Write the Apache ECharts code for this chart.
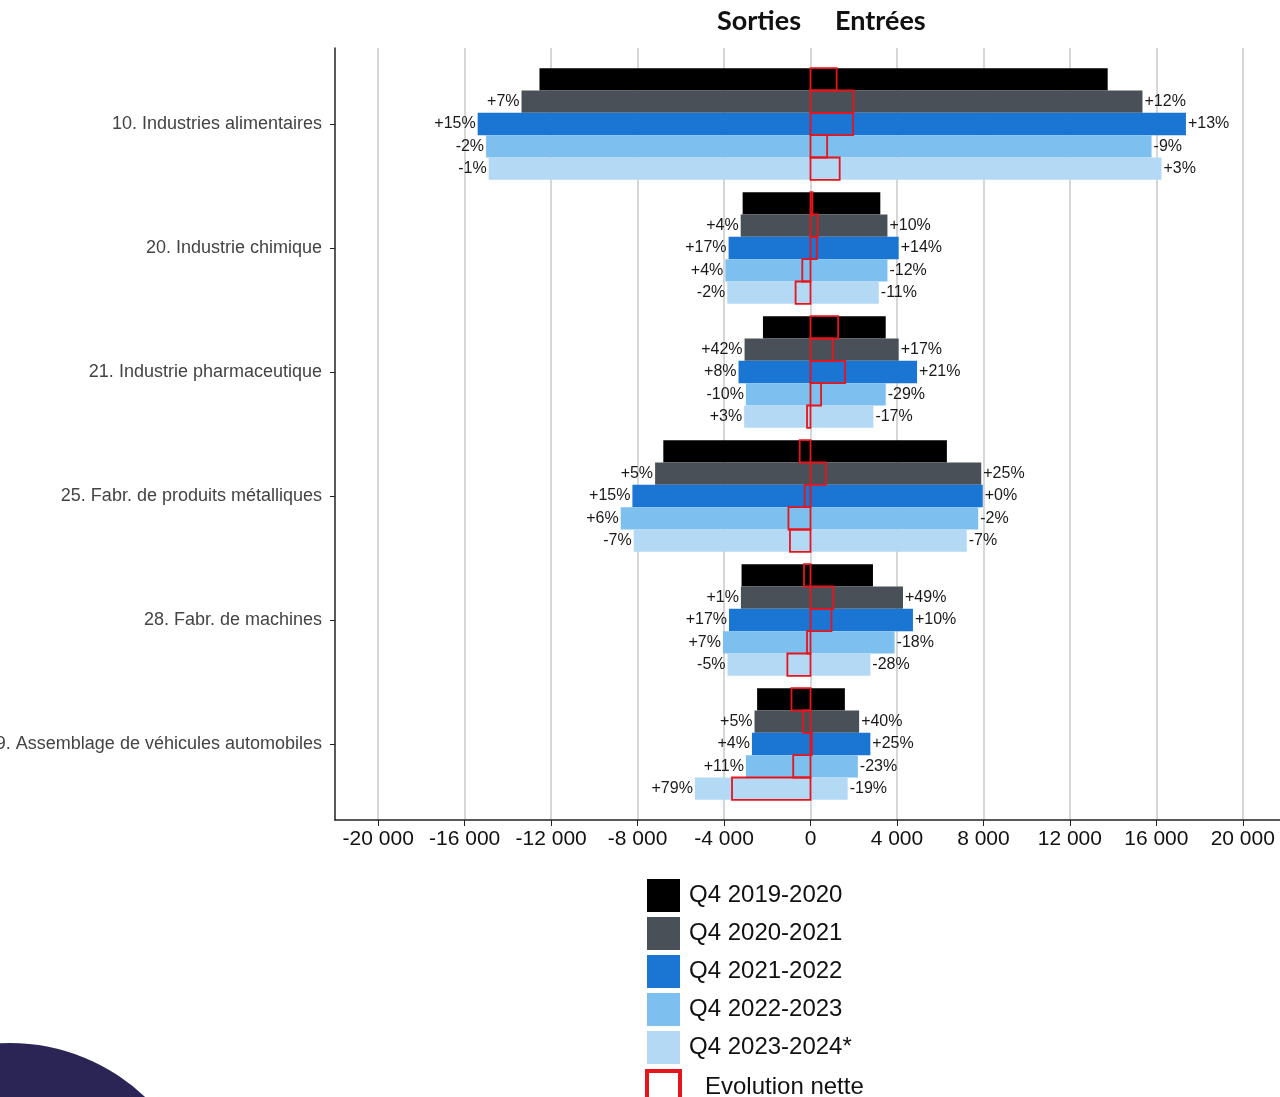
<!DOCTYPE html>
<html>
<head>
<meta charset="utf-8">
<script src="https://cdn.jsdelivr.net/npm/echarts@6/dist/echarts.min.js"></script>
<style>
html,body{margin:0;padding:0;background:#fff;}
#chart{width:1280px;height:1097px;}
</style>
</head>
<body>
<div id="chart"></div>
<script>
// ---------------- data ----------------
const categories = [
  '10. Industries alimentaires',
  '20. Industrie chimique',
  '21. Industrie pharmaceutique',
  '25. Fabr. de produits métalliques',
  '28. Fabr. de machines',
  '29. Assemblage de véhicules automobiles'
];
const periods = ['Q4 2019-2020', 'Q4 2020-2021', 'Q4 2021-2022', 'Q4 2022-2023', 'Q4 2023-2024*'];
const netName = 'Evolution nette';

// Sorties (negative), one array per period, one value per category
const sorties0 = [-12540, -3140, -2200, -6810, -3190, -2470];
const sorties1 = [-13370, -3230, -3050, -7190, -3220, -2590];
const sorties2 = [-15400, -3790, -3330, -8240, -3770, -2710];
const sorties3 = [-15010, -3940, -2990, -8780, -4050, -2990];
const sorties4 = [-14890, -3850, -3070, -8180, -3840, -5350];

// Entrées (positive)
const entrees0 = [13750, 3230, 3480, 6310, 2890, 1590];
const entrees1 = [15360, 3560, 4080, 7900, 4280, 2250];
const entrees2 = [17370, 4080, 4930, 7970, 4740, 2770];
const entrees3 = [15780, 3560, 3480, 7760, 3890, 2190];
const entrees4 = [16240, 3160, 2910, 7230, 2770, 1720];

// Year-on-year % labels (null = no label)
const sortiesPct0 = [null, null, null, null, null, null];
const sortiesPct1 = [7, 4, 42, 5, 1, 5];
const sortiesPct2 = [15, 17, 8, 15, 17, 4];
const sortiesPct3 = [-2, 4, -10, 6, 7, 11];
const sortiesPct4 = [-1, -2, 3, -7, -5, 79];

const entreesPct0 = [null, null, null, null, null, null];
const entreesPct1 = [12, 10, 17, 25, 49, 40];
const entreesPct2 = [13, 14, 21, 0, 10, 25];
const entreesPct3 = [-9, -12, -29, -2, -18, -23];
const entreesPct4 = [3, -11, -17, -7, -28, -19];

const xTickValues = [-20000, -16000, -12000, -8000, -4000, 0, 4000, 8000, 12000, 16000, 20000];

// ---------------- build ----------------
const sorties = [sorties0, sorties1, sorties2, sorties3, sorties4];
const entrees = [entrees0, entrees1, entrees2, entrees3, entrees4];
const sortiesPct = [sortiesPct0, sortiesPct1, sortiesPct2, sortiesPct3, sortiesPct4];
const entreesPct = [entreesPct0, entreesPct1, entreesPct2, entreesPct3, entreesPct4];

const colors = ['#000000', '#4a5058', '#1a76d2', '#7dbfee', '#b4d9f5'];
const netColor = '#e8141c';

const SANS = '"Liberation Sans", Arial, sans-serif';
const TITLE_FONT = 'Lato, "Liberation Sans", sans-serif';

function fmtPct(v) {
  if (v === null || v === undefined) return '';
  return (v >= 0 ? '+' : '') + v + '%';
}
function fmtThousands(v) {
  const s = String(Math.abs(v)).replace(/\B(?=(\d{3})+(?!\d))/g, ' ');
  return (v < 0 ? '-' : '') + s;
}

const BAR_GAP_CAT = 0.10; // category gap fraction
const series = [];
periods.forEach((name, i) => {
  const common = {
    type: 'bar',
    name: name,
    xAxisIndex: 1,
    yAxisIndex: 1,
    stack: 'p' + i,
    barGap: '0%',
    barCategoryGap: (BAR_GAP_CAT * 100) + '%',
    itemStyle: { color: colors[i] },
    emphasis: { disabled: true },
    animation: false
  };
  series.push(Object.assign({}, common, {
    data: sorties[i],
    label: {
      show: true,
      position: 'left',
      distance: 2,
      fontSize: 16,
      fontFamily: SANS,
      color: '#1a1a1a',
      formatter: p => fmtPct(sortiesPct[i][p.dataIndex])
    }
  }));
  series.push(Object.assign({}, common, {
    data: entrees[i],
    label: {
      show: true,
      position: 'right',
      distance: 2,
      fontSize: 16,
      fontFamily: SANS,
      color: '#1a1a1a',
      formatter: p => fmtPct(entreesPct[i][p.dataIndex])
    }
  }));
});

// net evolution boxes: [categoryIndex, net, periodIndex]
const netData = [];
categories.forEach((c, ci) => {
  periods.forEach((p, pi) => {
    netData.push([ci, entrees[pi][ci] + sorties[pi][ci], pi]);
  });
});

series.push({
  type: 'custom',
  name: netName,
  xAxisIndex: 1,
  yAxisIndex: 1,
  z: 5,
  animation: false,
  encode: { x: 1, y: 0 },
  itemStyle: { color: netColor },
  data: netData,
  renderItem: function (params, api) {
    const ci = api.value(0);
    const net = api.value(1);
    const pi = api.value(2);
    const p0 = api.coord([0, ci]);
    const p1 = api.coord([net, ci]);
    const band = api.size([0, 1])[1];
    const groupH = band * (1 - BAR_GAP_CAT);
    const rowH = groupH / periods.length;
    const y = p0[1] - groupH / 2 + pi * rowH;
    const x = Math.min(p0[0], p1[0]);
    const w = Math.max(Math.abs(p1[0] - p0[0]), 1);
    return {
      type: 'rect',
      shape: { x: x, y: y, width: w, height: rowH },
      style: { fill: 'rgba(0,0,0,0)', stroke: netColor, lineWidth: 1.8 }
    };
  }
});

const option = {
  backgroundColor: '#ffffff',
  animation: false,
  title: [
    { text: 'Sorties', left: 712, top: 3, padding: 5, textStyle: { fontFamily: TITLE_FONT, fontWeight: 'bold', fontSize: 27, color: '#111' } },
    { text: 'Entrées', left: 830, top: 3, padding: 5, textStyle: { fontFamily: TITLE_FONT, fontWeight: 'bold', fontSize: 27, color: '#111' } }
  ],
  graphic: [
    { type: 'circle', shape: { cx: 10, cy: 1239, r: 196 }, style: { fill: '#2b2556' }, z: -10, silent: true }
  ],
  legend: {
    orient: 'vertical',
    left: 645,
    top: 879,
    height: 260,
    padding: 0,
    itemWidth: 33,
    itemHeight: 33,
    itemGap: 5,
    selectedMode: false,
    textStyle: { fontSize: 24, fontFamily: SANS, color: '#111', padding: [0, 0, 0, 4] },
    data: periods.map(n => ({ name: n, icon: 'rect' })).concat([
      {
        name: netName,
        icon: 'rect',
        itemStyle: { color: 'rgba(255,255,255,0)', borderColor: netColor, borderWidth: 4 },
        textStyle: { padding: [0, 0, 0, 20] }
      }
    ])
  },
  grid: [
    { left: 335, top: 48, width: 951, height: 772, outerBoundsMode: 'none', containLabel: false },
    { left: 335, top: 62, width: 951, height: 744, outerBoundsMode: 'none', containLabel: false }
  ],
  xAxis: [
    {
      gridIndex: 0,
      type: 'value',
      min: -22000,
      max: 22000,
      axisLine: { show: true, onZero: false, lineStyle: { color: '#222', width: 1.5 } },
      axisTick: { show: true, customValues: xTickValues, length: 6, lineStyle: { color: '#222' } },
      axisLabel: {
        customValues: xTickValues,
        margin: 9,
        fontSize: 21,
        fontFamily: SANS,
        color: '#111',
        formatter: v => fmtThousands(v)
      },
      splitLine: { show: true, lineStyle: { color: '#cacaca', width: 1.5 } }
    },
    {
      gridIndex: 1,
      type: 'value',
      min: -22000,
      max: 22000,
      show: false
    }
  ],
  yAxis: [
    {
      gridIndex: 0,
      type: 'value',
      min: 0,
      max: 1,
      axisLine: { show: true, onZero: false, lineStyle: { color: '#222', width: 1.5 } },
      axisTick: { show: false },
      axisLabel: { show: false },
      splitLine: { show: false }
    },
    {
      gridIndex: 1,
      type: 'category',
      data: categories,
      inverse: true,
      axisLine: { show: false, onZero: false },
      axisTick: { show: true, alignWithLabel: true, length: 5, lineStyle: { color: '#222' } },
      axisLabel: { margin: 13, fontSize: 18, fontFamily: SANS, color: '#444' },
      splitLine: { show: false }
    }
  ],
  series: series
};

const chart = echarts.init(document.getElementById('chart'), null, { renderer: 'canvas' });
chart.setOption(option);
</script>
</body>
</html>
